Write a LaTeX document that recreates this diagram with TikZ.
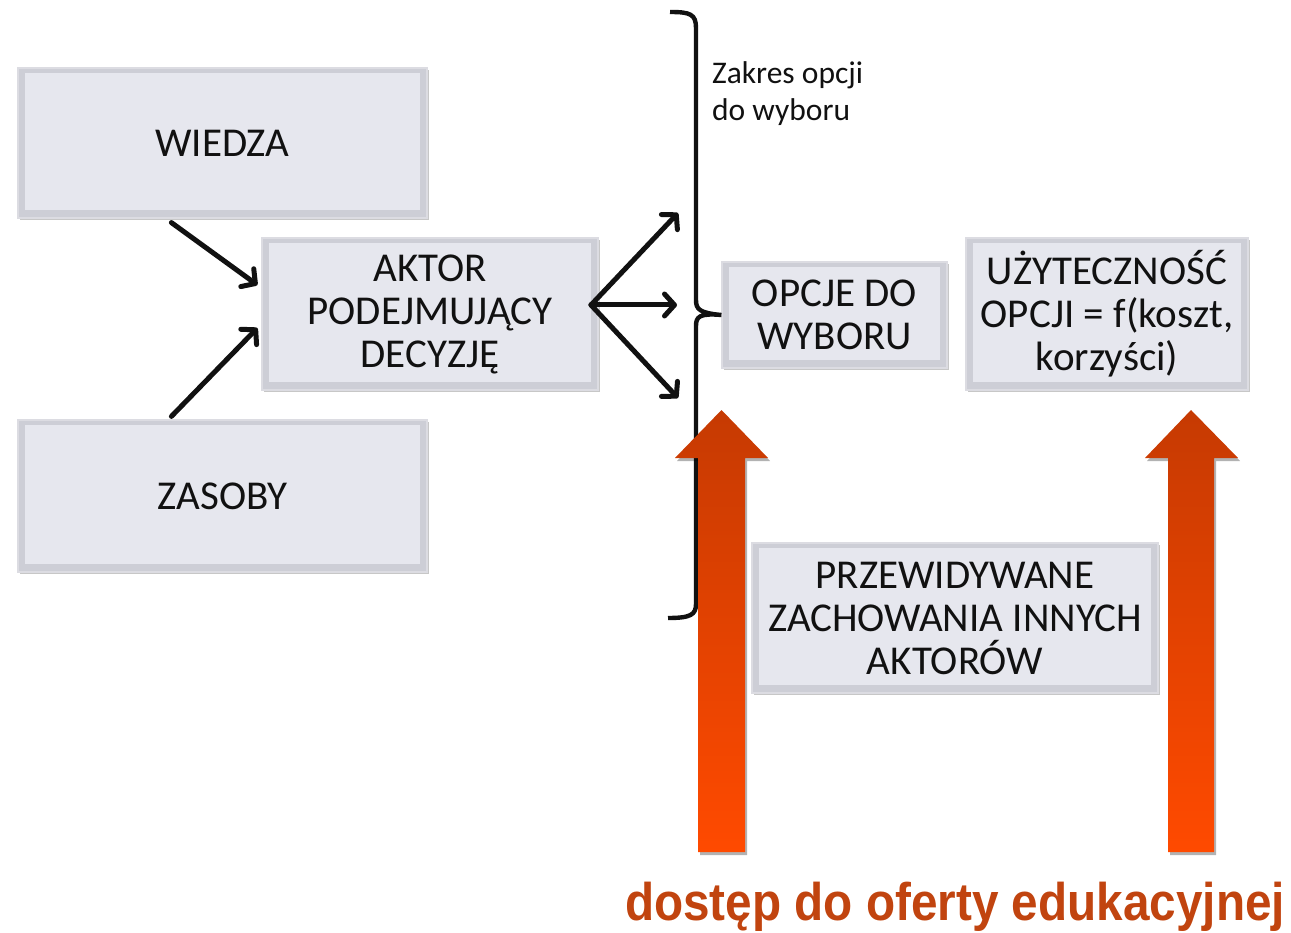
\documentclass[tikz,border=0pt]{standalone}
\usepackage{fontspec}
\setmainfont{Carlito}
\newfontfamily\arialf{Liberation Sans}
\usetikzlibrary{arrows.meta,shadows,calc}
\definecolor{boxface}{HTML}{E6E7EE}
\definecolor{boxside}{HTML}{CDCED6}
\definecolor{boxedge}{HTML}{DCDCE2}
\definecolor{ordark}{HTML}{C63A02}
\definecolor{orlight}{HTML}{FF4A00}
\definecolor{ortext}{HTML}{C1440F}
\definecolor{inkc}{HTML}{111111}
\begin{document}
\begin{tikzpicture}[x=1pt,y=-1pt,
  bevelbox/.style={draw=boxedge, line width=1.2pt, fill=boxside, inner sep=0pt,
    align=center, font=\fontsize{41}{43}\selectfont, text=inkc,
    drop shadow={shadow xshift=2pt, shadow yshift=-2pt, opacity=0.22, fill=black},
    path picture={\fill[boxface] ([xshift=7pt,yshift=-5pt]path picture bounding box.north west)
      rectangle ([xshift=-7pt,yshift=8pt]path picture bounding box.south east);}},
  blackarrow/.style={line width=5pt, inkc, line cap=round,
    -{Straight Barb[length=10pt,width=22pt,round]}},
  bigarrow/.style={top color=ordark, bottom color=orlight, draw=none,
    drop shadow={shadow xshift=2pt, shadow yshift=-3pt, opacity=0.3, fill=black}},
  bracestyle/.style={line width=4.4pt, inkc, line join=round}
]
\useasboundingbox (0,0) rectangle (1291,933);

% boxes
\node[bevelbox, minimum width=409pt, minimum height=150pt] (wiedza) at (222.5,143) {WIEDZA};
\node[bevelbox, minimum width=409pt, minimum height=152pt] (zasoby) at (222.5,496) {ZASOBY};
\node[bevelbox, minimum width=336pt, minimum height=152pt] (aktor) at (430,314) {AKTOR\\PODEJMUJĄCY\\DECYZJĘ};
\node[bevelbox, minimum width=225pt, minimum height=106pt] (opcje) at (834.5,315) {OPCJE DO\\WYBORU};
\node[bevelbox, minimum width=282pt, minimum height=152pt] (uzyt) at (1107,314) {UŻYTECZNOŚĆ\\OPCJI = f(koszt,\\korzyści)};
\node[bevelbox, minimum width=406pt, minimum height=150pt] (przew) at (955,618) {PRZEWIDYWANE\\ZACHOWANIA INNYCH\\AKTORÓW};

% arrows into actor
\draw[blackarrow] ([xshift=154pt,yshift=-4pt]wiedza.south west) -- ([xshift=-4pt,yshift=29pt]aktor.west);
\draw[blackarrow] ([xshift=154pt,yshift=3pt]zasoby.north west) -- ([xshift=-4pt,yshift=-14pt]aktor.west);

% fan
\coordinate (fan) at (591,305);
\coordinate (f1) at (678,213);
\coordinate (f2) at (677,305);
\coordinate (f3) at (678,398);
\draw[blackarrow] (fan) -- (f1);
\draw[blackarrow] (fan) -- (f2);
\draw[blackarrow] (fan) -- (f3);

% brace
\coordinate (btop) at (670,12);
\coordinate (bbot) at (668,618);
\draw[bracestyle] (btop) .. controls (690,12) and (696,14) .. (696,28)
  -- (696,300) .. controls (696,309) and (699,313) .. (opcje.west)
  (opcje.west) .. controls (699,313) and (696,317) .. (696,326)
  -- (696,604) .. controls (696,615) and (690,618) .. (bbot);

\node[anchor=north west, inner sep=0pt, align=left, text=inkc,
  font=\fontsize{31.5}{37}\selectfont] (zakres) at (712,61) {Zakres opcji\\do wyboru};

% big orange arrows
\shade[bigarrow] (698,852) -- (698,458) -- (675,458) -- (721.5,410) -- (768,458)
  -- (745,458) -- (745,852) -- cycle;
\shade[bigarrow] (1168,852) -- (1168,458) -- (1145,458) -- (1191,410) -- (1238,458)
  -- (1214,458) -- (1214,852) -- cycle;

\node[anchor=base, inner sep=0pt, text=ortext,
  font=\arialf\bfseries\fontsize{53}{60}\selectfont] (dostep) at (955,920)
  {\scalebox{0.9}[1]{dostęp do oferty edukacyjnej}};
\end{tikzpicture}
\end{document}
